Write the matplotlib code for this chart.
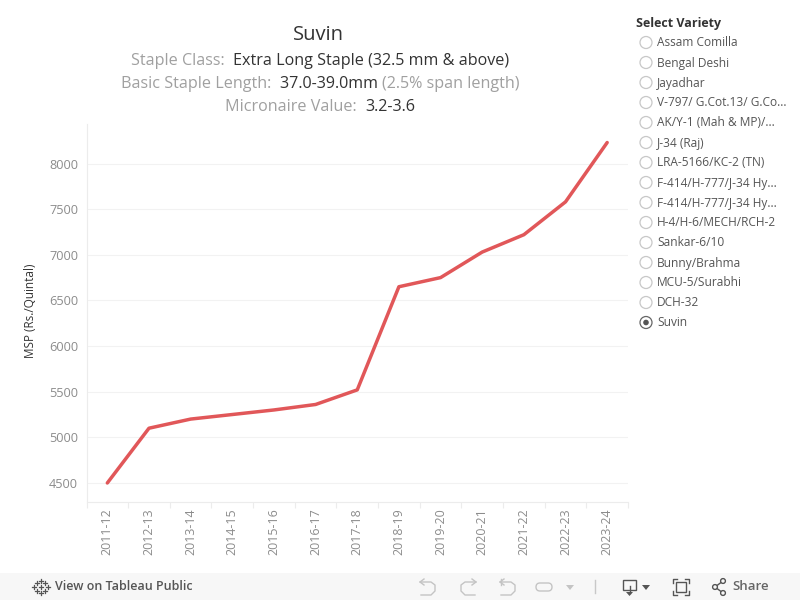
import matplotlib
matplotlib.use('Agg')
import matplotlib.pyplot as plt
from matplotlib.patches import Circle, Rectangle, FancyBboxPatch

plt.rcParams['font.family'] = ['Open Sans', 'DejaVu Sans']

seasons = ['2011-12', '2012-13', '2013-14', '2014-15', '2015-16', '2016-17', '2017-18',
           '2018-19', '2019-20', '2020-21', '2021-22', '2022-23', '2023-24']
msp = [4500, 5100, 5200, 5250, 5300, 5360, 5520, 6650, 6750, 7030, 7220, 7580, 8230]
yticks = [4500, 5000, 5500, 6000, 6500, 7000, 7500, 8000]
varieties = ['Assam Comilla', 'Bengal Deshi', 'Jayadhar', 'V-797/ G.Cot.13/ G.Co...',
             'AK/Y-1 (Mah & MP)/...', 'J-34 (Raj)', 'LRA-5166/KC-2 (TN)', 'F-414/H-777/J-34 Hy...',
             'F-414/H-777/J-34 Hy...', 'H-4/H-6/MECH/RCH-2', 'Sankar-6/10', 'Bunny/Brahma',
             'MCU-5/Surabhi', 'DCH-32', 'Suvin']
selected = 'Suvin'

GREY = '#a0a0a0'
DARK = '#333333'
LINE = '#e15759'
W, H = 800, 600

fig = plt.figure(figsize=(8, 6), dpi=100)

# chart area, pixel box
ax = fig.add_axes([86.5 / W, 1 - 501.5 / H, (628 - 86.5) / W, (501.5 - 124) / H])
ax.plot(range(len(seasons)), msp, color=LINE, lw=2.5, solid_capstyle='round', solid_joinstyle='round')
ax.set_xlim(-0.5, len(seasons) - 0.5)
ax.set_ylim(4297, 8433)
ax.set_yticks(yticks)
ax.set_xticks(range(len(seasons)))
ax.set_xticklabels(seasons, rotation=90)
ax.set_xticks([i - 0.5 for i in range(len(seasons) + 1)], minor=True)
ax.tick_params(axis='y', length=0, labelsize=9.2, labelcolor='#8c8c8c', pad=6)
ax.tick_params(axis='x', which='major', length=0, labelsize=8.9, labelcolor='#8c8c8c', pad=5)
ax.tick_params(axis='x', which='minor', length=4, color='#ececec', width=0.8)
ax.grid(axis='y', color='#f2f2f2', lw=0.8)
ax.set_axisbelow(True)
for s in ['top', 'right']:
    ax.spines[s].set_visible(False)
for s in ['left', 'bottom']:
    ax.spines[s].set_color('#ececec')
    ax.spines[s].set_linewidth(0.8)
ax.set_ylabel('MSP (Rs./Quintal)', fontsize=8.5, color='#333333', labelpad=0)
ax.yaxis.set_label_coords((30 - 86.5) / (628 - 86.5), (501.5 - 311) / (501.5 - 124))
ax.yaxis.label.set_va('center')

# overlay in pixel coordinates for title, filter and toolbar
ov = fig.add_axes([0, 0, 1, 1], zorder=5)
ov.set_xlim(0, W)
ov.set_ylim(H, 0)
ov.axis('off')
ov.patch.set_alpha(0)


def centered_line(cx, y, parts, size):
    # parts have different colours, so measure them first and centre the whole row
    r = fig.canvas.get_renderer()
    texts = [ov.text(0, y, s, color=c, fontsize=size, va='center', ha='left') for s, c in parts]
    widths = [t.get_window_extent(r).width for t in texts]
    x = cx - sum(widths) / 2
    for t, w in zip(texts, widths):
        t.set_x(x)
        x += w


ov.text(318, 35, 'Suvin', fontsize=14.5, color=DARK, ha='center', va='center')
centered_line(320, 61, [('Staple Class:  ', GREY), ('Extra Long Staple (32.5 mm & above)', DARK)], 11.6)
centered_line(320, 84, [('Basic Staple Length:  ', GREY), ('37.0-39.0mm ', DARK), ('(2.5% span length)', GREY)], 11.6)
centered_line(320, 107, [('Micronaire Value:  ', GREY), ('3.2-3.6', DARK)], 11.6)

# variety filter
ov.text(636, 23, 'Select Variety', fontsize=9, fontweight='bold', color=DARK, va='center')
for i, v in enumerate(varieties):
    y = 42.5 + i * 20
    on = v == selected
    ov.add_patch(Circle((646, y), 6, fc='white', ec='#666666' if on else '#c8c8c8', lw=0.9))
    if on:
        ov.add_patch(Circle((646, y), 2.8, fc='#555555', ec='none'))
    ov.text(657, y + 0.5, v, fontsize=8.6, color='#555555', va='center')

# toolbar
ov.add_patch(Rectangle((0, 573), W, 27, fc='#f7f7f7', ec='none'))
ov.text(55, 586.5, 'View on Tableau Public', fontsize=9, fontweight='semibold', color='#555555', va='center')
ov.text(732, 586.5, 'Share', fontsize=9.5, fontweight='semibold', color='#666666', va='center')
for dx, dy in [(0, -6), (0, 6), (-7, 0), (7, 0), (-4, -4), (4, -4), (-4, 4), (4, 4), (0, 0)]:
    ov.plot([41 + dx - 2, 41 + dx + 2], [586.5 + dy, 586.5 + dy], color='#555555', lw=0.9)
    ov.plot([41 + dx, 41 + dx], [586.5 + dy - 2, 586.5 + dy + 2], color='#555555', lw=0.9)

undo = '#c4c4c4'
ov.plot([420, 431, 435, 435, 431, 421], [582, 582, 585, 591, 595, 595], color=undo, lw=1)
ov.plot([424, 420, 424], [579, 582, 585], color=undo, lw=1)
ov.plot([476, 465, 461, 461, 465, 475], [582, 582, 585, 591, 595, 595], color=undo, lw=1)
ov.plot([472, 476, 472], [579, 582, 585], color=undo, lw=1)
ov.plot([500, 511, 515, 515, 511, 501], [582, 582, 585, 591, 595, 595], color=undo, lw=1)
ov.plot([504, 500, 504], [579, 582, 585], color=undo, lw=1)
ov.plot([501, 501], [579, 585], color=undo, lw=1)
ov.add_patch(FancyBboxPatch((536, 583), 16, 8, boxstyle='round,pad=0,rounding_size=4', fc='none', ec=undo, lw=1))
ov.fill([566, 574, 570], [585, 585, 590], color=undo, lw=0)
ov.plot([595, 595], [580, 593], color='#c8c8c8', lw=1)

ov.add_patch(Rectangle((623, 580), 13, 10, fc='none', ec='#555555', lw=1))
ov.plot([629.5, 629.5], [586, 593], color='#555555', lw=1)
ov.fill([626, 633, 629.5], [592, 592, 596], color='#555555', lw=0)
ov.fill([642, 650, 646], [585, 585, 590], color='#555555', lw=0)
ov.add_patch(Rectangle((676, 582), 10, 10, fc='none', ec='#555555', lw=1))
for x0, x1, y0, y1 in [(673, 689, 579, 595)]:
    ov.plot([x0, x0, x0 + 4], [y0 + 4, y0, y0], color='#555555', lw=1)
    ov.plot([x1 - 4, x1, x1], [y0, y0, y0 + 4], color='#555555', lw=1)
    ov.plot([x0, x0, x0 + 4], [y1 - 4, y1, y1], color='#555555', lw=1)
    ov.plot([x1 - 4, x1, x1], [y1, y1, y1 - 4], color='#555555', lw=1)
ov.plot([723, 715, 723], [581, 587, 593], color='#555555', lw=1)
for cx, cy in [(723, 581), (715, 587), (723, 593)]:
    ov.add_patch(Circle((cx, cy), 2.4, fc='#f7f7f7', ec='#555555', lw=1, zorder=6))

fig.savefig('out.png', dpi=100)
